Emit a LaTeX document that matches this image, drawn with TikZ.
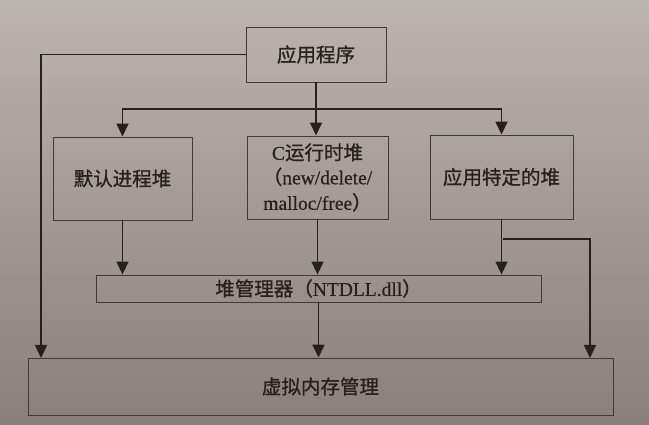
\documentclass[tikz,border=0pt]{standalone}
\usepackage{fontspec}
\setmainfont{Liberation Serif}[FakeBold=0.6]
\newfontfamily\cjk{Noto Sans CJK SC}[FakeBold=0.9]
\usetikzlibrary{arrows.meta}
\definecolor{bgtop}{RGB}{188,180,174}
\definecolor{bgbot}{RGB}{138,128,123}
\definecolor{ink}{RGB}{38,32,32}
\definecolor{edge}{RGB}{66,58,58}
\begin{document}
\begin{tikzpicture}[x=1pt,y=-1pt,
  box/.style={draw=edge,line width=0.9pt,inner sep=0pt,text=ink,align=center,
    font=\fontsize{19.5}{25.5}\selectfont},
  arr/.style={draw=ink,line width=1.6pt,-{Triangle[length=13pt,width=12pt]}},
  ln/.style={draw=ink,line width=1.6pt}]
\shade[top color=bgtop,bottom color=bgbot] (0,0) rectangle (649,425);
\useasboundingbox (0,0) rectangle (649,425);
\node[box,minimum width=140pt,minimum height=55pt] (top) at (316,54.5) {\cjk 应用程序};
\node[box,minimum width=139pt,minimum height=83pt] (left) at (122.5,178.5) {\cjk 默认进程堆};
\node[box,minimum width=141pt,minimum height=83pt] (mid) at (317.5,177.5)
  {C{\cjk 运行时堆}\\[-1pt]{\cjk （}new/delete/\\malloc/free{\cjk ）}};
\node[box,minimum width=143pt,minimum height=84pt] (right) at (501.5,177) {\cjk 应用特定的堆};
\node[box,minimum width=445pt,minimum height=27pt] (heap) at (318.5,288.5) {{\cjk 堆管理器（}NTDLL.dll{\cjk ）}};
\node[box,minimum width=585pt,minimum height=57pt] (vm) at (320.5,386.5) {\cjk 虚拟内存管理};
\coordinate (bus) at (316,109);
\coordinate (bl) at (41,358);
\coordinate (br) at (503,239);
\coordinate (brd) at (590,358);
\draw[ln] (top.south) -- (bus);
\draw[arr] (bus) -- (mid.north -| bus);
\draw[arr] (bus) -| (left.north);
\draw[arr] (bus) -| (right.north);
\draw[arr] (top.west) -| (bl);
\draw[arr] (left.south) -- (left.south |- heap.north);
\draw[arr] (mid.south) -- (mid.south |- heap.north);
\draw[arr] (right.south) -- (right.south |- heap.north);
\draw[arr] (br) -| (brd);
\draw[arr] (heap.south) -- (heap.south |- vm.north);
\end{tikzpicture}
\end{document}
